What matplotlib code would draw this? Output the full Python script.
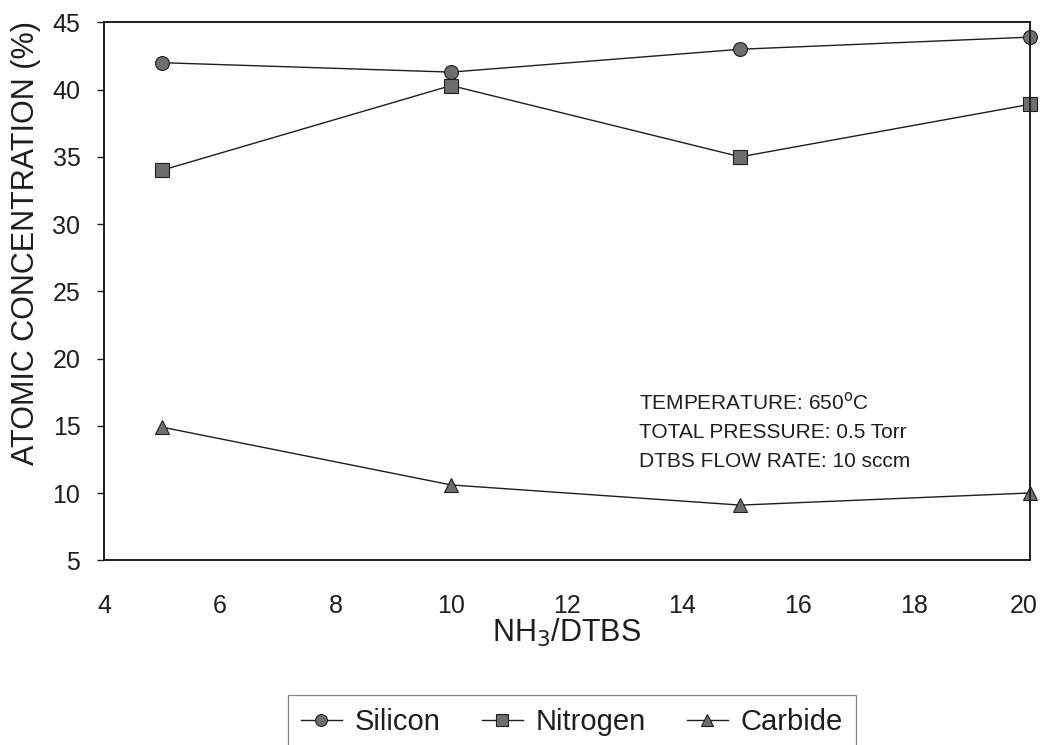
import matplotlib
matplotlib.use("Agg")
import matplotlib.pyplot as plt
import matplotlib.transforms as mtransforms

plt.rcParams['font.family'] = ['Liberation Sans', 'DejaVu Sans']

ratio = [5, 10, 15, 20]
silicon = [42.0, 41.3, 43.0, 43.9]
nitrogen = [34.0, 40.3, 35.0, 38.9]
carbide = [14.9, 10.6, 9.1, 10.0]

xticks = [4, 6, 8, 10, 12, 14, 16, 18, 20]
yticks = [5, 10, 15, 20, 25, 30, 35, 40, 45]

ink = '#1e1e1e'
fill = '#6e6e6e'

fig = plt.figure(figsize=(10.4, 7.45), dpi=100)
ax = fig.add_axes([0.100, 0.248, 0.890, 0.722])

ax.plot(ratio, silicon, color=ink, lw=1.0, marker='o', ms=10,
        mfc=fill, mec=ink, mew=0.8, label='Silicon', clip_on=False)
ax.plot(ratio, nitrogen, color=ink, lw=1.0, marker='s', ms=10,
        mfc=fill, mec=ink, mew=0.8, label='Nitrogen', clip_on=False)
ax.plot(ratio, carbide, color=ink, lw=1.0, marker='^', ms=10,
        mfc=fill, mec=ink, mew=0.8, label='Carbide', clip_on=False)

ax.set_xlim(4, 20)
ax.set_ylim(5, 45)
ax.set_xticks(xticks)
ax.set_yticks(yticks)
ax.tick_params(axis='y', direction='out', length=5, width=1, color=ink,
               labelsize=18, labelcolor=ink, pad=12)
ax.tick_params(axis='x', direction='out', length=0, labelsize=18,
               labelcolor=ink, pad=24)
for s in ax.spines.values():
    s.set_color(ink)
    s.set_linewidth(1.4)

# last x label sits at the right edge, pull it in a bit like the original
last = ax.get_xticklabels()[-1]
last.set_transform(last.get_transform() +
                   mtransforms.ScaledTranslation(-6 / 100, 0, fig.dpi_scale_trans))

ax.set_xlabel('NH$_3$/DTBS', fontsize=22, color=ink)
ax.xaxis.set_label_coords(0.5, -0.105)
ax.set_ylabel('ATOMIC CONCENTRATION (%)', fontsize=22, color=ink)
ax.yaxis.set_label_coords(-0.068, 0.59)

ax.text(0.578, 0.314,
        'TEMPERATURE: 650$^{\\mathrm{o}}$C\nTOTAL PRESSURE: 0.5 Torr\nDTBS FLOW RATE: 10 sccm',
        transform=ax.transAxes, fontsize=15, color=ink, va='top', ha='left',
        linespacing=1.65)

leg = fig.legend(loc='upper center', bbox_to_anchor=(0.55, 0.067), ncol=3,
                 fontsize=21, frameon=True, fancybox=False, handlelength=1.4,
                 handletextpad=0.45, columnspacing=1.4, borderpad=0.45,
                 borderaxespad=0, markerscale=0.85)
leg.get_frame().set_edgecolor('#666666')
leg.get_frame().set_linewidth(0.9)
for t in leg.get_texts():
    t.set_color(ink)

fig.savefig('out.png', dpi=100)
